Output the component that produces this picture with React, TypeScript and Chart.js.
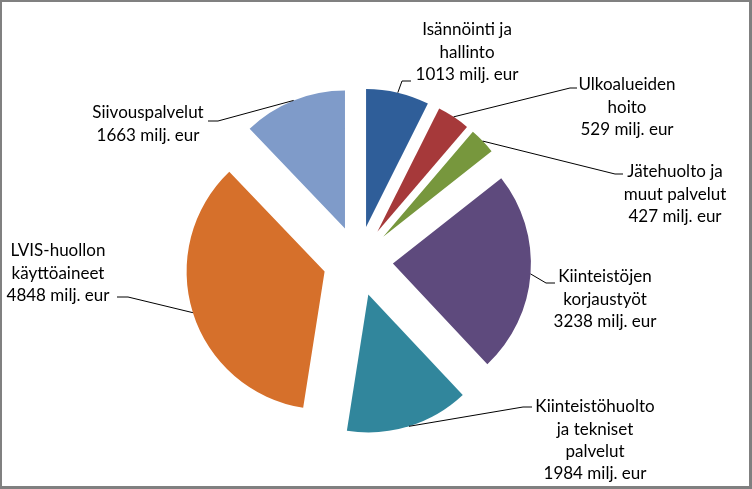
import React, { useEffect, useRef } from "react";
import { Chart, registerables } from "chart.js";

Chart.register(...registerables);

const categories = [
  ["Isännöinti ja", "hallinto"],
  ["Ulkoalueiden", "hoito"],
  ["Jätehuolto ja", "muut palvelut"],
  ["Kiinteistöjen", "korjaustyöt"],
  ["Kiinteistöhuolto", "ja tekniset", "palvelut"],
  ["LVIS-huollon", "käyttöaineet"],
  ["Siivouspalvelut"],
];
const values = [1013, 529, 427, 3238, 1984, 4848, 1663];
const unit = "milj. eur";
const colors = ["#2f5e99", "#a6393a", "#77973d", "#5e4a7d", "#31869c", "#d6702b", "#7f9bc9"];

// label layout relative to the pie centre: text centre x, first line y, elbow point, tail end x
const labelLayout = [
  { tx: 109, ty: -231, ex: 44, ey: -180, hx: 53 },
  { tx: 269, ty: -176, ex: 212, ey: -173, hx: 219 },
  { tx: 317, ty: -89, ex: 257, ey: -87, hx: 265 },
  { tx: 247, ty: 16, ex: 188, ey: 22, hx: 197 },
  { tx: 237, ty: 146, ex: 165, ey: 146, hx: 174 },
  { tx: -300, ty: -10, ex: -230, ey: 36, hx: -241 },
  { tx: -210, ty: -148, ex: -140, ey: -140, hx: -150 },
];

const EXPLODE = 35;
const FONT = "17px Lato, 'Open Sans', sans-serif";
const LINE_H = 22.3;

const explodePlugin = {
  id: "explode",
  beforeDatasetDraw(chart: any, args: any) {
    const ctx = chart.ctx;
    args.meta.data.forEach((arc: any) => {
      const mid = (arc.startAngle + arc.endAngle) / 2;
      ctx.save();
      ctx.translate(Math.cos(mid) * EXPLODE, Math.sin(mid) * EXPLODE);
      arc.draw(ctx);
      ctx.restore();
    });
    return false;
  },
  afterDatasetsDraw(chart: any) {
    const ctx = chart.ctx;
    const meta = chart.getDatasetMeta(0);
    ctx.save();
    meta.data.forEach((arc: any, i: number) => {
      const mid = (arc.startAngle + arc.endAngle) / 2;
      const r = arc.outerRadius + EXPLODE;
      const px = arc.x + Math.cos(mid) * r;
      const py = arc.y + Math.sin(mid) * r;
      const L = labelLayout[i];
      ctx.strokeStyle = "#000";
      ctx.lineWidth = 1;
      ctx.beginPath();
      ctx.moveTo(px, py);
      ctx.lineTo(arc.x + L.ex, arc.y + L.ey);
      ctx.lineTo(arc.x + L.hx, arc.y + L.ey);
      ctx.stroke();
      const lines = [...categories[i], `${values[i]} ${unit}`];
      ctx.fillStyle = "#000";
      ctx.font = FONT;
      ctx.textAlign = "center";
      ctx.textBaseline = "middle";
      lines.forEach((t, k) => {
        ctx.fillText(t, arc.x + L.tx, arc.y + L.ty + k * LINE_H);
      });
    });
    ctx.restore();
  },
};

export default function App() {
  const ref = useRef<HTMLCanvasElement>(null);
  useEffect(() => {
    document.body.style.margin = "0";
    const chart = new Chart(ref.current!, {
      type: "pie",
      data: {
        labels: categories.map((c) => c.join(" ")),
        datasets: [
          {
            data: values,
            backgroundColor: colors,
            borderWidth: 0,
          },
        ],
      },
      options: {
        responsive: false,
        animation: false,
        radius: 138,
        layout: { padding: { left: 0, right: 36, top: 33, bottom: 0 } },
        plugins: { legend: { display: false }, tooltip: { enabled: false } },
        events: [],
      } as any,
      plugins: [explodePlugin],
    });
    return () => chart.destroy();
  }, []);
  return (
    <div
      style={{
        position: "fixed",
        left: 0,
        top: 0,
        width: 752,
        height: 489,
        boxSizing: "border-box",
        borderStyle: "solid",
        borderColor: "#808080",
        borderWidth: "2px 3px 3px 2px",
        background: "#fff",
      }}
    >
      <canvas ref={ref} width={752} height={489} style={{ position: "absolute", left: -2, top: -2, display: "block" }} />
    </div>
  );
}
